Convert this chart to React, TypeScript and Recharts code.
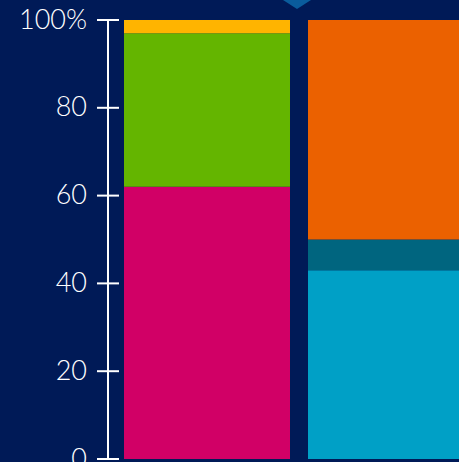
import React from "react";
import { BarChart, Bar, XAxis, YAxis, Customized } from "recharts";

const categories = ["A", "B"];
const seriesA1 = [62, 0];
const seriesA2 = [35, 0];
const seriesA3 = [3, 0];
const seriesB1 = [0, 43];
const seriesB2 = [0, 7];
const seriesB3 = [0, 50];
const yTicks = [0, 20, 40, 60, 80, 100];

const data = categories.map((c, i) => ({
  name: c,
  a1: seriesA1[i],
  a2: seriesA2[i],
  a3: seriesA3[i],
  b1: seriesB1[i],
  b2: seriesB2[i],
  b3: seriesB3[i],
}));

const BG = "#001a57";

const YTick = (props: any) => {
  const { x, y, payload } = props;
  const v = payload.value;
  const label = v === 100 ? "100%" : String(v);
  return (
    <g>
      <line x1={x - 11} x2={x + 11} y1={y} y2={y} stroke="#ffffff" strokeWidth={2} />
      <text
        x={x - 21}
        y={y - 2}
        textAnchor="end"
        dominantBaseline="central"
        fill="#ffffff"
        fontSize={27}
        fontFamily="Lato"
        fontWeight={300}
      >
        {label}
      </text>
    </g>
  );
};

const Triangle = () => (
  <polygon points="283,0 311,0 297,9" fill="#0a5c9c" />
);

export default function App() {
  return (
    <div style={{ position: "fixed", left: 0, top: 0, width: 459, height: 462, overflow: "hidden", background: BG }}>
      <BarChart
        width={490}
        height={462}
        data={data}
        margin={{ top: 20, right: 0, bottom: 3, left: 0 }}
        barCategoryGap={9}
        style={{ background: BG }}
      >
        <XAxis
          dataKey="name"
          tick={false}
          tickLine={false}
          height={0}
          padding={{ left: 7, right: 7 }}
          axisLine={{ stroke: "#ffffff", strokeWidth: 2 }}
        />
        <YAxis
          domain={[0, 100]}
          ticks={yTicks}
          width={108}
          tickSize={0}
          tickMargin={0}
          tickLine={false}
          axisLine={{ stroke: "#ffffff", strokeWidth: 2 }}
          tick={<YTick />}
          interval={0}
        />
        <Bar dataKey="a1" stackId="s" fill="#d10066" isAnimationActive={false} />
        <Bar dataKey="a2" stackId="s" fill="#64b500" isAnimationActive={false} />
        <Bar dataKey="a3" stackId="s" fill="#ffb400" isAnimationActive={false} />
        <Bar dataKey="b1" stackId="s" fill="#00a0c6" isAnimationActive={false} />
        <Bar dataKey="b2" stackId="s" fill="#00657f" isAnimationActive={false} />
        <Bar dataKey="b3" stackId="s" fill="#eb6100" isAnimationActive={false} />
        <Customized component={Triangle} />
      </BarChart>
    </div>
  );
}
